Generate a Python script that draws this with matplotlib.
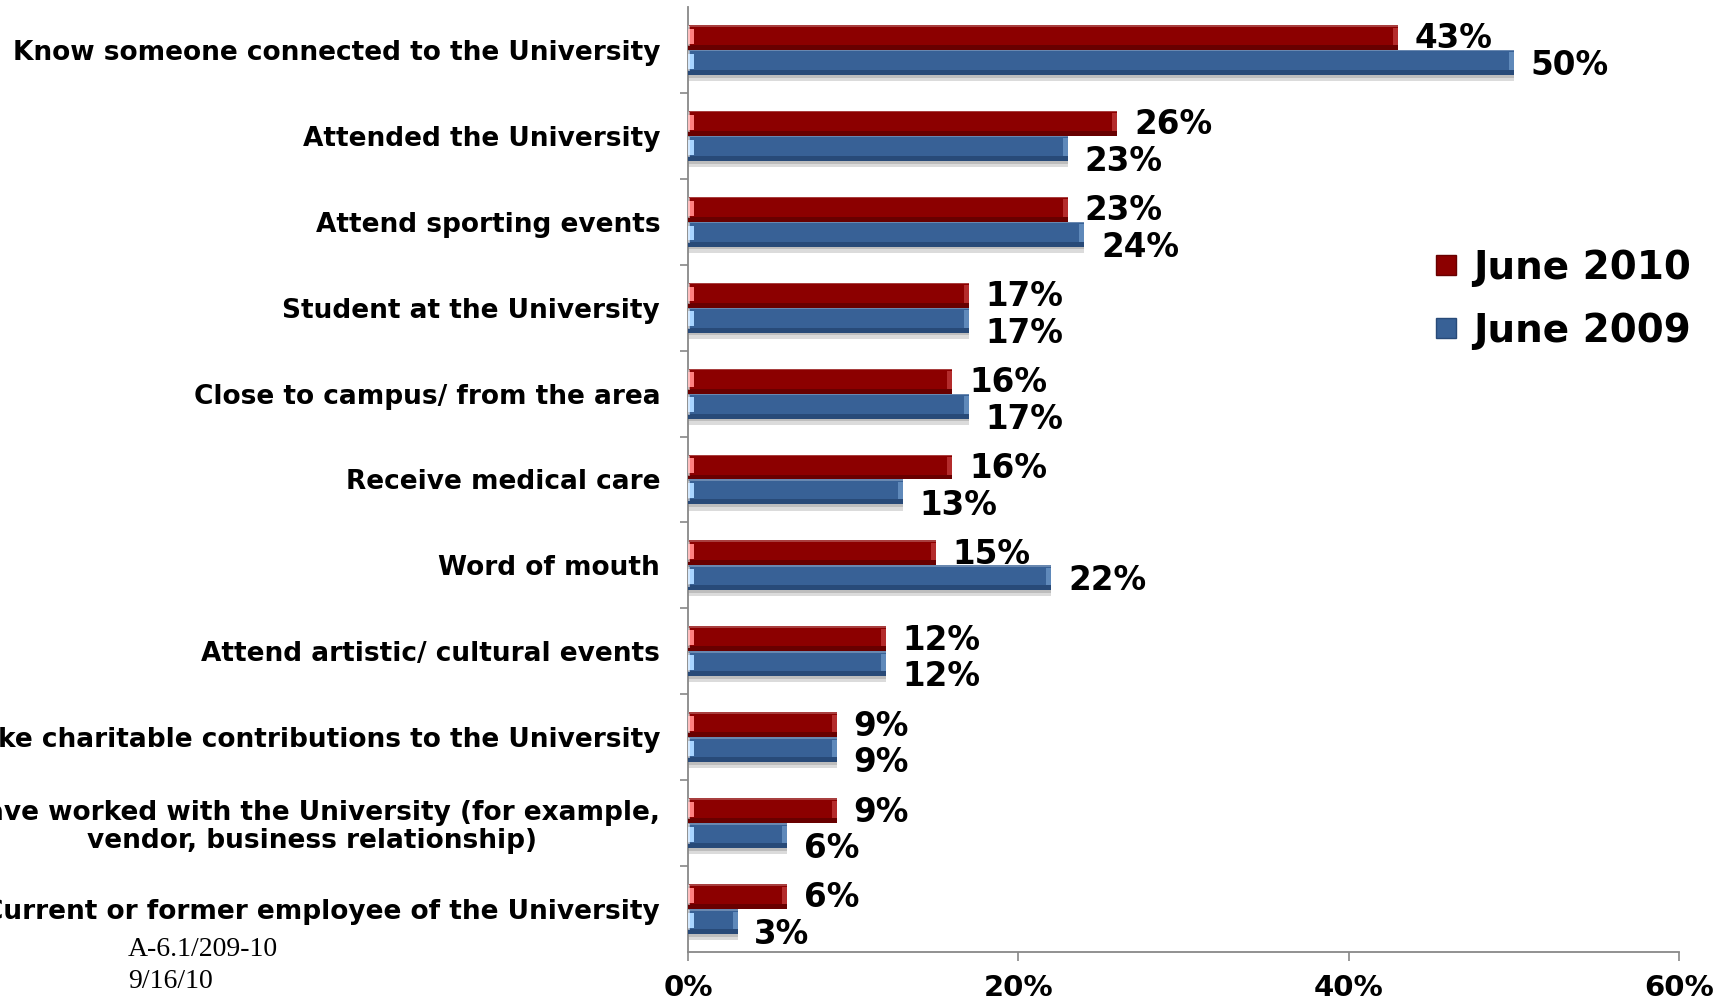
import matplotlib
matplotlib.use("Agg")
import matplotlib.pyplot as plt
from matplotlib.lines import Line2D
import numpy as np

categories = [
    "Know someone connected to the University",
    "Attended the University",
    "Attend sporting events",
    "Student at the University",
    "Close to campus/ from the area",
    "Receive medical care",
    "Word of mouth",
    "Attend artistic/ cultural events",
    "Make charitable contributions to the University",
    "Have worked with the University (for example,\nvendor, business relationship)",
    "Current or former employee of the University",
]
june_2010 = [43, 26, 23, 17, 16, 16, 15, 12, 9, 9, 6]
june_2009 = [50, 23, 24, 17, 17, 13, 22, 12, 9, 6, 3]
series_names = ["June 2010", "June 2009"]
x_ticks = [0, 20, 40, 60]
x_tick_labels = ["0%", "20%", "40%", "60%"]
footnote_lines = ["A-6.1/209-10", "9/16/10"]

RED = "#8c0000"
RED_DARK = "#680000"
RED_LIGHT = "#ff8080"
BLUE = "#386196"
BLUE_DARK = "#284a78"
BLUE_LIGHT = "#a8d4ff"

plt.rcParams["font.family"] = ["DejaVu Sans"]
fig = plt.figure(figsize=(17.27, 10.06), dpi=100)
ax = fig.add_axes([688 / 1727, (1006 - 952) / 1006, (1679 - 688) / 1727, (952 - 7) / 1006])

y = np.arange(len(categories))
h = 0.29
y_red = y - h / 2
y_blue = y + h / 2

# shadow under the pair
ax.barh(y_blue + h * 0.62, june_2009, height=h * 0.25, color="#b0b0b0", alpha=0.45, zorder=1)
ax.barh(y_blue + h * 0.55, june_2009, height=h * 0.12, color="#909090", alpha=0.4, zorder=1)

for yy, vals, main, dark, light in [(y_red, june_2010, RED, RED_DARK, RED_LIGHT),
                                    (y_blue, june_2009, BLUE, BLUE_DARK, BLUE_LIGHT)]:
    ax.barh(yy, vals, height=h, color=main, edgecolor="none", zorder=2)
    ax.barh(yy + h * 0.4, vals, height=h * 0.2, color=dark, edgecolor="none", zorder=3)
    ax.barh(yy - h * 0.47, vals, height=h * 0.06, color="white", alpha=0.25, edgecolor="none", zorder=3)
    ax.barh(yy - h * 0.05, [0.35] * len(vals), height=h * 0.6, color=light, edgecolor="none", zorder=4)
    ax.barh(yy - h * 0.05, [0.12] * len(vals), height=h * 0.8, color="white", alpha=0.5, edgecolor="none", zorder=4)
    ax.barh(yy - h * 0.05, [0.3] * len(vals), left=np.array(vals) - 0.3, height=h * 0.7,
            color=light, alpha=0.35, edgecolor="none", zorder=4)

red_texts = []
blue_texts = []
for yi, v in zip(y_red, june_2010):
    red_texts.append(ax.annotate(f"{v}%", (v, yi), xytext=(12, -1), textcoords="offset points",
                                 ha="left", va="center", fontsize=23.5, fontweight="bold",
                                 color="black"))
for yi, v in zip(y_blue, june_2009):
    blue_texts.append(ax.annotate(f"{v}%", (v, yi), xytext=(12, -2), textcoords="offset points",
                                  ha="left", va="center", fontsize=23.5, fontweight="bold",
                                  color="black"))

ax.set_xlim(0, 60)
ax.set_ylim(len(categories) - 0.5, -0.5)
ax.set_xticks(x_ticks)
ax.set_xticklabels(x_tick_labels, fontsize=21, fontweight="bold")
ax.set_yticks(y)
ax.set_yticklabels(categories, fontsize=19, fontweight="bold", multialignment="center",
                   linespacing=1.1)
ax.set_yticks(np.arange(len(categories) - 1) + 0.5, minor=True)
ax.tick_params(axis="y", which="major", length=0, pad=20)
ax.tick_params(axis="y", which="minor", length=6, width=1.2, color="#888888", direction="out")
ax.tick_params(axis="x", which="major", length=6.5, width=1.2, color="#888888", pad=9, direction="out")

for s in ["top", "right"]:
    ax.spines[s].set_visible(False)
for s in ["left", "bottom"]:
    ax.spines[s].set_color("#888888")
    ax.spines[s].set_linewidth(1.3)

handles = [Line2D([], [], marker="s", linestyle="none", markersize=14,
                  markerfacecolor=RED, markeredgecolor=RED_DARK),
           Line2D([], [], marker="s", linestyle="none", markersize=14,
                  markerfacecolor=BLUE, markeredgecolor=BLUE_DARK)]
fig.legend(handles, series_names, loc="upper left", bbox_to_anchor=(1430 / 1727, 1 - 249 / 1006),
           frameon=False, prop={"size": 28, "weight": "bold"}, handlelength=0.8,
           handletextpad=0.3, labelspacing=0.63, borderpad=0, borderaxespad=0)

for line, ypx in zip(footnote_lines, [949, 981]):
    fig.text(128 / 1727, 1 - ypx / 1006, line, fontsize=20, family="Liberation Serif",
             ha="left", va="center")

# push June 2009 labels down where they collide with the June 2010 label (as Excel does)
fig.canvas.draw()
renderer = fig.canvas.get_renderer()
for tr, tb in zip(red_texts, blue_texts):
    br = tr.get_window_extent(renderer)
    bb = tb.get_window_extent(renderer)
    if bb.x1 > br.x0 + 1 and bb.x0 < br.x1 and bb.y1 > br.y0:
        tb.xyann = (12, -9.5)

fig.savefig("out.png", dpi=100)
